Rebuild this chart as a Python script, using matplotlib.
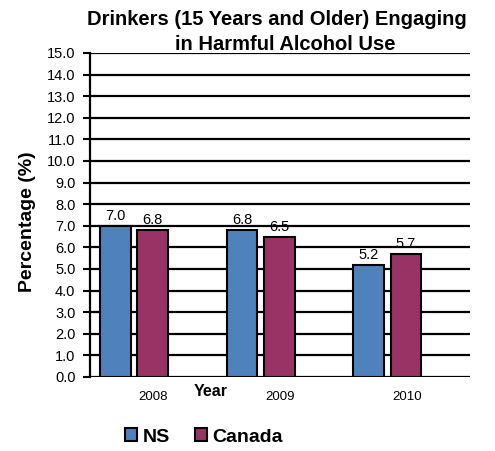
import matplotlib
matplotlib.use("Agg")
import matplotlib.pyplot as plt
from matplotlib.patches import Patch
import numpy as np

plt.rcParams['font.family'] = ['Liberation Sans', 'DejaVu Sans']

years = ["2008", "2009", "2010"]
ns_values = [7.0, 6.8, 5.2]
canada_values = [6.8, 6.5, 5.7]
y_ticks = [i * 1.0 for i in range(16)]

ns_color = "#4F81BD"
canada_color = "#993366"

fig = plt.figure(figsize=(4.95, 4.51), dpi=100)
ax = fig.add_axes([90/495, 1-377/451, 380/495, (377-53)/451])

x = np.arange(len(years))
w = 0.24
ax.bar(x - 0.30, ns_values, width=w, color=ns_color, edgecolor="black", linewidth=1.5, zorder=3)
ax.bar(x - 0.005, canada_values, width=w, color=canada_color, edgecolor="black", linewidth=1.5, zorder=3)

for xi, v in zip(x - 0.30, ns_values):
    ax.annotate(f"{v:.1f}", (xi, v), xytext=(0, 2), textcoords="offset points",
                ha="center", va="bottom", fontsize=10.5, zorder=4)
for xi, v in zip(x - 0.005, canada_values):
    ax.annotate(f"{v:.1f}", (xi, v), xytext=(0, 2), textcoords="offset points",
                ha="center", va="bottom", fontsize=10.5, zorder=4)

ax.set_xlim(-0.5, 2.5)
ax.set_ylim(0, 15)
ax.set_yticks(y_ticks)
ax.set_yticklabels([f"{t:.1f}" for t in y_ticks], fontsize=10.5)
ax.set_xticks(x)
ax.set_xticklabels(years, fontsize=9.5)
ax.tick_params(axis="x", length=0, pad=10)
ax.tick_params(axis="y", length=5, width=1.5, pad=5.5, direction="out")
ax.yaxis.grid(True, color="black", linewidth=1.6, zorder=0)
ax.set_axisbelow(True)
for s in ["top", "right", "bottom"]:
    ax.spines[s].set_visible(False)
ax.spines["left"].set_linewidth(1.6)
ax.spines["left"].set_zorder(5)

fig.text(277/495, 1-25/451, "Drinkers (15 Years and Older) Engaging", ha="center", va="baseline",
         fontsize=14.5, fontweight="bold")
fig.text(285/495, 1-50/451, "in Harmful Alcohol Use", ha="center", va="baseline",
         fontsize=14.5, fontweight="bold")
fig.text(27/495, 1-222/451, "Percentage (%)", rotation=90, ha="center", va="center",
         fontsize=14, fontweight="bold")
fig.text(211/495, 1-391/451, "Year", ha="center", va="center", fontsize=11.5, fontweight="bold")

handles = [Patch(facecolor=ns_color, edgecolor="black", linewidth=1.5, label="NS"),
           Patch(facecolor=canada_color, edgecolor="black", linewidth=1.5, label="Canada")]
fig.legend(handles=handles, loc="center", bbox_to_anchor=(204/495, 1-437/451), ncol=2,
           frameon=False, prop={"size": 14, "weight": "bold"},
           handlelength=0.6, handleheight=0.6, handletextpad=0.3, columnspacing=1.3)

fig.savefig("out.png", dpi=100)
